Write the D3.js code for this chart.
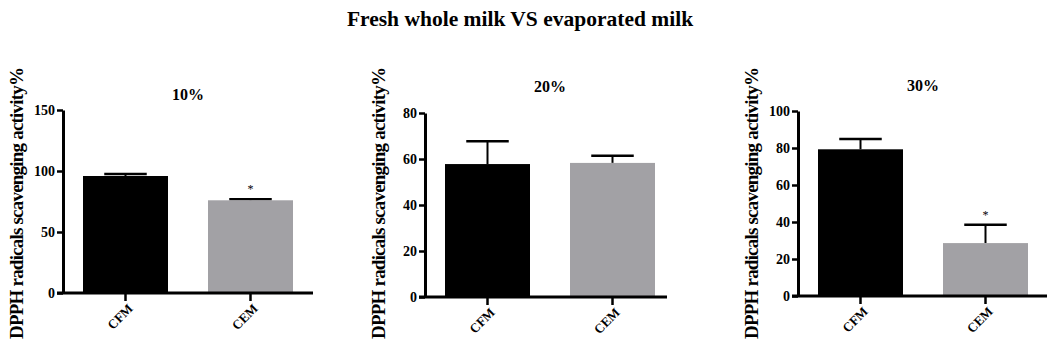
<html>
<head>
  <meta charset="utf-8" />
  <style>
    body { margin: 0; background: #fff; }
    text { font-family: "Liberation Serif", "Times New Roman", serif; font-weight: bold; }
  </style>
</head>
<body>
  <svg id="chart" width="1053" height="348"></svg>
</body>
<script src="https://cdn.jsdelivr.net/npm/d3@7"></script>
<script>

// data
const categories = ["CFM", "CEM"]
const concentrations = ["10%", "20%", "30%"]
const cfmMeans = [95.9, 57.8, 79.3]
const cfmSD = [1.6, 9.9, 5.6]
const cemMeans = [76.0, 58.3, 28.6]
const cemSD = [0.8, 3.1, 9.9]
const yMax = [150, 80, 100]
const yTicks = [[0, 50, 100, 150], [0, 20, 40, 60, 80], [0, 20, 40, 60, 80, 100]]
const starred = [[false, true], [false, false], [false, true]]
const barColors = ["#000000", "#a2a1a5"]

const svg = d3.select('#chart')

// layout of each panel (pixels)
const axisX = [63, 425, 798]
const yTop = [110, 113, 111]
const yBottom = [293, 297, 296]
const xLen = [250, 242, 249]
const titleY = [100, 92, 91]

svg.append('text')
  .attr('x', 520)
  .attr('y', 26)
  .attr('text-anchor', 'middle')
  .style('font-size', '21.5px')
  .text('Fresh whole milk VS evaporated milk')

concentrations.forEach((conc, i) => {
  const g = svg.append('g')
  const x = d3.scaleBand()
    .domain(categories)
    .range([axisX[i], axisX[i] + 250])
    .paddingInner(0.32)
    .paddingOuter(0.16)
  const y = d3.scaleLinear()
    .domain([0, yMax[i]])
    .range([yBottom[i], yTop[i]])

  const rows = categories.map((c, j) => ({
    cat: c,
    mean: j == 0 ? cfmMeans[i] : cemMeans[i],
    sd: j == 0 ? cfmSD[i] : cemSD[i],
    star: starred[i][j],
    color: barColors[j]
  }))

  // error bars (upper only), drawn under the bars
  rows.forEach(d => {
    const cx = x(d.cat) + x.bandwidth() / 2
    g.append('line')
      .attr('x1', cx).attr('x2', cx)
      .attr('y1', y(d.mean)).attr('y2', y(d.mean + d.sd))
      .attr('stroke', '#000').attr('stroke-width', 2)
    g.append('line')
      .attr('x1', cx - x.bandwidth() / 4).attr('x2', cx + x.bandwidth() / 4)
      .attr('y1', y(d.mean + d.sd)).attr('y2', y(d.mean + d.sd))
      .attr('stroke', '#000').attr('stroke-width', 2.5)
  })

  g.selectAll('rect.bar')
    .data(rows)
    .enter().append('rect')
    .attr('class', 'bar')
    .attr('x', d => x(d.cat))
    .attr('width', x.bandwidth())
    .attr('y', d => y(d.mean))
    .attr('height', d => y(0) - y(d.mean))
    .attr('fill', d => d.color)

  // significance marks
  g.selectAll('text.star')
    .data(rows.filter(d => d.star))
    .enter().append('text')
    .attr('class', 'star')
    .attr('x', d => x(d.cat) + x.bandwidth() / 2)
    .attr('y', d => y(d.mean + d.sd) - 6)
    .attr('text-anchor', 'middle')
    .style('font-size', '12px')
    .style('font-weight', 'normal')
    .text('*')

  // y axis
  const yAxis = g.append('g')
    .attr('transform', `translate(${axisX[i]},0)`)
    .call(d3.axisLeft(y).tickValues(yTicks[i]).tickSize(6).tickSizeOuter(0).tickPadding(2))
  yAxis.select('.domain').attr('stroke-width', 3)
  yAxis.selectAll('.tick line').attr('stroke-width', 2.5)
  yAxis.selectAll('.tick text').style('font-size', '14px').attr('fill', '#000')

  // x axis
  const xAxis = g.append('g')
    .attr('transform', `translate(0,${yBottom[i]})`)
    .call(d3.axisBottom(x).tickSize(8).tickSizeOuter(0))
  xAxis.select('.domain').remove()
  xAxis.append('line')
    .attr('x1', axisX[i] - 6).attr('x2', axisX[i] + xLen[i])
    .attr('stroke', '#000').attr('stroke-width', 3)
  xAxis.selectAll('.tick line').attr('stroke-width', 2.5)
  xAxis.selectAll('.tick text')
    .style('font-size', '13px')
    .attr('fill', '#000')
    .attr('text-anchor', 'end')
    .attr('transform', 'translate(5,13) rotate(-45)')
    .attr('dy', '0.35em')
    .attr('y', 0)

  // panel title
  g.append('text')
    .attr('x', axisX[i] + 125)
    .attr('y', titleY[i])
    .attr('text-anchor', 'middle')
    .style('font-size', '16px')
    .text(conc)

  // y label
  const lx = axisX[i] - 47
  g.append('text')
    .attr('transform', `translate(${lx},203) rotate(-90)`)
    .attr('text-anchor', 'middle')
    .attr('dy', '0.35em')
    .attr('textLength', 272)
    .attr('lengthAdjust', 'spacing')
    .style('font-size', '19px')
    .text('DPPH radicals scavenging activity%')
})

</script>
</html>
